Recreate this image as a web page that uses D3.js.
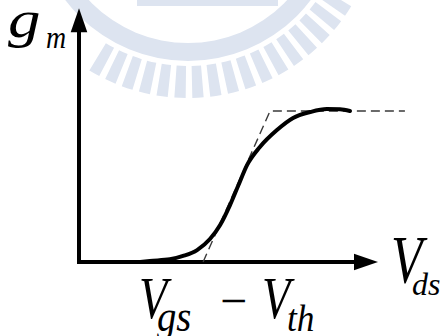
<!DOCTYPE html>
<html>
<head>
<meta charset="utf-8">
<script src="https://cdn.jsdelivr.net/npm/d3@7"></script>
<style>
  html, body { margin: 0; padding: 0; background: #fff; overflow: hidden; }
</style>
</head>
<body>
<svg id="chart" width="446" height="336"></svg>
<script>
// gm versus Vds, in normalized units (gm = 1 is the saturated value)
const vds = [2.04, 2.37, 3.04, 3.48, 3.95, 4.38, 4.72, 5.05, 5.32, 5.62, 6.05, 6.62, 7.16, 7.73, 8.29, 8.73, 9.06];
const gm  = [0, 0.007, 0.018, 0.040, 0.079, 0.152, 0.245, 0.377, 0.503, 0.642, 0.762, 0.874, 0.954, 0.993, 1.013, 1.011, 1.0];

// dashed piecewise-linear approximation: ramp, then flat saturation
const approxVds = [4.15, 6.39, 10.9];
const approxGm  = [0, 1, 1];

// axis extents
const xMax = 10;
const yMax = 1.68;

const svg = d3.select("#chart");
const x = d3.scaleLinear().domain([0, xMax]).range([79, 378]);
const y = d3.scaleLinear().domain([0, 1]).range([262, 111]);

// faint emblem in the background
const wm = svg.append("g").attr("fill", "#dde4f0");
const cx = 188, cy = -93;
wm.append("path")
  .attr("transform", `translate(${cx},${cy})`)
  .attr("d", d3.arc()({ innerRadius: 136, outerRadius: 154, startAngle: 0, endAngle: 2 * Math.PI }));
const tickStep = 5.4;
for (let a = 33; a <= 121; a += tickStep) {
  // angle measured clockwise from +x, converted to d3.arc convention (from 12 o'clock)
  const c = (a + 90) * Math.PI / 180;
  const half = 1.7 * Math.PI / 180;
  wm.append("path")
    .attr("transform", `translate(${cx},${cy})`)
    .attr("d", d3.arc()({ innerRadius: 159, outerRadius: 191, startAngle: c - half, endAngle: c + half }));
}
wm.append("rect").attr("x", 137).attr("y", 0).attr("width", 141).attr("height", 6);

// axes
const arrowLen = 24, arrowHalf = 8.3;
svg.append("path")
  .attr("d", d3.line()([[x(0), y(yMax) + arrowLen - 1], [x(0), y(0)], [x(xMax) - arrowLen + 1, y(0)]]))
  .attr("fill", "none").attr("stroke", "#000").attr("stroke-width", 4)
  .attr("stroke-linejoin", "miter");
svg.append("path")
  .attr("d", d3.line()([[x(xMax), y(0)], [x(xMax) - arrowLen, y(0) - arrowHalf], [x(xMax) - arrowLen, y(0) + arrowHalf]]) + "Z")
  .attr("fill", "#000");
svg.append("path")
  .attr("d", d3.line()([[x(0), y(yMax)], [x(0) - arrowHalf, y(yMax) + arrowLen], [x(0) + arrowHalf, y(yMax) + arrowLen]]) + "Z")
  .attr("fill", "#000");

// dashed approximation
svg.append("path")
  .datum(approxVds.map((v, i) => [v, approxGm[i]]))
  .attr("d", d3.line().x(d => x(d[0])).y(d => y(d[1])))
  .attr("fill", "none").attr("stroke", "#3a3a3a").attr("stroke-width", 1.4)
  .attr("stroke-dasharray", "9,5");

// gm curve
svg.append("path")
  .datum(vds.map((v, i) => [v, gm[i]]))
  .attr("d", d3.line().x(d => x(d[0])).y(d => y(d[1])).curve(d3.curveMonotoneX))
  .attr("fill", "none").attr("stroke", "#000").attr("stroke-width", 4)
  .attr("stroke-linecap", "round");

// labels (italic serif, slightly condensed or widened per glyph group)
function label(txt, px, py, size, sx, italic = true) {
  svg.append("text")
    .attr("transform", `translate(${px},${py}) scale(${sx},1)`)
    .style("font-family", '"Liberation Serif"')
    .style("font-style", italic ? "italic" : "normal")
    .style("font-size", size + "px")
    .attr("fill", "#000")
    .text(txt);
}
label("g", 8, 37, 52, 1.25);
label("m", 46, 48, 32, 0.87);
label("V", 391, 282, 67, 0.77);
label("ds", 412, 295, 32, 1.0);
label("V", 139, 318, 60, 0.77);
label("gs", 157, 331, 44, 0.88);
label("V", 262, 318, 60, 0.77);
label("th", 287, 331, 38, 0.93);
label("\u2212", 220, 317, 48, 1.0, false);
</script>
</body>
</html>
